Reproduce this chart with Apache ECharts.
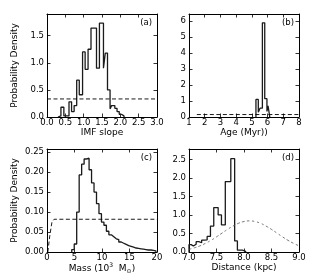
<!DOCTYPE html>
<html><head><meta charset="utf-8">
<script src="https://cdn.jsdelivr.net/npm/echarts@6/dist/echarts.min.js"></script>
<style>html,body{margin:0;padding:0;background:#fff}#c{width:315px;height:280px}</style>
</head><body><div id="c"></div>
<script>
// ---- Panel (a): IMF slope ----
const aEdges = [0.30, 0.38, 0.46, 0.60, 0.67, 0.74, 0.81, 0.88, 0.97, 1.04, 1.12, 1.20, 1.35, 1.43, 1.54, 1.59, 1.65, 1.72, 1.76, 1.85, 1.91, 1.97, 2.03, 2.10];
const aDensity = [0.02, 0.18, 0.02, 0.28, 0.10, 0.21, 0.68, 0.41, 1.20, 0.88, 1.25, 1.64, 0.90, 1.73, 0.90, 1.18, 0.50, 0.15, 0.21, 0.16, 0.10, 0.05, 0.02];
const aPriorX = [0, 3];
const aPriorY = [0.333, 0.333];
const aXTicks = [0, 0.5, 1.0, 1.5, 2.0, 2.5, 3.0];
const aYTicks = [0, 0.5, 1.0, 1.5];

// ---- Panel (b): Age ----
const bEdges = [5.26, 5.41, 5.52, 5.67, 5.82, 5.96, 6.03, 6.14];
const bDensity = [1.1, 0.3, 0.55, 5.9, 1.15, 0.35, 0.7];
const bPriorX = [1.5, 8];
const bPriorY = [0.154, 0.154];
const bXTicks = [1, 2, 3, 4, 5, 6, 7, 8];
const bYTicks = [0, 1, 2, 3, 4, 5, 6];

// ---- Panel (c): Mass ----
const cEdges = [4.5, 4.95, 5.4, 5.85, 6.3, 6.75, 7.2, 7.65, 8.1, 8.55, 9.0, 9.45, 9.9, 10.35, 10.8, 11.25, 11.7, 12.15, 12.6, 13.05, 13.5, 13.95, 14.4, 14.85, 15.3, 15.75, 16.2, 16.65, 17.1, 17.55, 18.0, 18.45, 18.9, 19.35, 19.8];
const cDensity = [0.006, 0.02, 0.100, 0.193, 0.220, 0.233, 0.235, 0.206, 0.173, 0.150, 0.121, 0.096, 0.075, 0.067, 0.052, 0.043, 0.038, 0.033, 0.031, 0.025, 0.022, 0.019, 0.016, 0.014, 0.012, 0.010, 0.009, 0.008, 0.007, 0.006, 0.005, 0.005, 0.004, 0.003];
const cPriorX = [0.15, 0.5, 0.9, 1.3, 20];
const cPriorY = [0, 0.04, 0.075, 0.082, 0.082];
const cXTicks = [0, 5, 10, 15, 20];
const cYTicks = [0, 0.05, 0.10, 0.15, 0.20, 0.25];

// ---- Panel (d): Distance ----
const dEdges = [7.00, 7.04, 7.08, 7.13, 7.18, 7.23, 7.28, 7.33, 7.39, 7.45, 7.53, 7.59, 7.66, 7.76, 7.83, 7.88, 7.97, 8.03];
const dDensity = [0.20, 0.16, 0.21, 0.28, 0.25, 0.32, 0.33, 0.42, 0.70, 1.20, 1.00, 0.73, 1.90, 2.52, 0.30, 0.05, 0.02];
const dPriorX = [7.0, 7.1, 7.2, 7.3, 7.4, 7.5, 7.6, 7.7, 7.8, 7.9, 8.0, 8.1, 8.2, 8.3, 8.4, 8.5, 8.6, 8.7, 8.8, 8.9, 9.0];
const dPriorY = [0.075, 0.114, 0.166, 0.234, 0.315, 0.409, 0.51, 0.61, 0.70, 0.775, 0.823, 0.84, 0.823, 0.775, 0.70, 0.61, 0.51, 0.409, 0.315, 0.234, 0.166];
const dXTicks = [7.0, 7.5, 8.0, 8.5, 9.0];
const dYTicks = [0, 0.5, 1.0, 1.5, 2.0, 2.5];

const FONT = 'DejaVu Sans';

function stepData(edges, vals) {
  const out = [[edges[0], 0]];
  for (let i = 0; i < vals.length; i++) out.push([edges[i], vals[i]]);
  out.push([edges[edges.length - 1], vals[vals.length - 1]]);
  out.push([edges[edges.length - 1], 0]);
  return out;
}
function pairs(xs, ys) { return xs.map((x, i) => [x, ys[i]]); }

const panels = [
  {grid:{left:47, top:14, width:110, height:103}, xMin:0, xMax:3, xTicks:aXTicks, xDec:1, yMax:1.9, yTicks:aYTicks, yDec:1,
   xName:'IMF slope', yName:'Probability Density', tag:'(a)', edges:aEdges, dens:aDensity, px:aPriorX, py:aPriorY, dashed:'black'},
  {grid:{left:189, top:14, width:110, height:103}, xMin:1, xMax:8, xTicks:bXTicks, xDec:0, yMax:6.45, yTicks:bYTicks, yDec:0,
   xName:'Age (Myr))', yName:'', tag:'(b)', edges:bEdges, dens:bDensity, px:bPriorX, py:bPriorY, dashed:'black'},
  {grid:{left:47, top:149, width:110, height:103}, xMin:0, xMax:20, xTicks:cXTicks, xDec:0, yMax:0.258, yTicks:cYTicks, yDec:2,
   xName:'Mass (10{sup|3}  M{sub|⊙})', yName:'Probability Density', tag:'(c)', edges:cEdges, dens:cDensity, px:cPriorX, py:cPriorY, dashed:'black'},
  {grid:{left:189, top:149, width:110, height:103}, xMin:7, xMax:9, xTicks:dXTicks, xDec:1, yMax:2.78, yTicks:dYTicks, yDec:1,
   xName:'Distance (kpc)', yName:'', tag:'(d)', edges:dEdges, dens:dDensity, px:dPriorX, py:dPriorY, dashed:'gray'}
];

const grid = [], xAxis = [], yAxis = [], series = [], graphic = [];
const tickStyle = {show:true, inside:true, length:3.5, lineStyle:{color:'#000', width:0.8}};
const lineStyle = {show:true, onZero:false, lineStyle:{color:'#000', width:1}};
panels.forEach((p, i) => {
  grid.push(Object.assign({show:false, containLabel:false}, p.grid));
  xAxis.push({
    type:'value', gridIndex:i, position:'bottom', min:p.xMin, max:p.xMax,
    axisLine:lineStyle, splitLine:{show:false},
    axisTick:Object.assign({customValues:p.xTicks}, tickStyle),
    axisLabel:{customValues:p.xTicks, formatter:v => v.toFixed(p.xDec), fontFamily:FONT, fontSize:8.5, color:'#000', margin:1},
    name:p.xName, nameLocation:'middle', nameGap: i === 2 ? 8 : 7,
    nameTextStyle:{fontFamily:FONT, fontSize:9, color:'#000',
      rich:{sup:{fontSize:6, verticalAlign:'top', padding:[0,0,6,0], fontFamily:FONT, color:'#000'},
            sub:{fontSize:6, verticalAlign:'bottom', padding:[5,0,0,0], fontFamily:FONT, color:'#000'}}}
  });
  xAxis.push({
    type:'value', gridIndex:i, position:'top', min:p.xMin, max:p.xMax,
    axisLine:lineStyle, splitLine:{show:false},
    axisTick:Object.assign({customValues:p.xTicks}, tickStyle),
    axisLabel:{show:false}
  });
  yAxis.push({
    type:'value', gridIndex:i, position:'left', min:0, max:p.yMax,
    axisLine:lineStyle, splitLine:{show:false},
    axisTick:Object.assign({customValues:p.yTicks}, tickStyle),
    axisLabel:{customValues:p.yTicks, formatter:v => v.toFixed(p.yDec), fontFamily:FONT, fontSize:8.5, color:'#000', margin:3},
    name:p.yName, nameLocation:'middle', nameGap:28,
    nameTextStyle:{fontFamily:FONT, fontSize:9, color:'#000'}
  });
  yAxis.push({
    type:'value', gridIndex:i, position:'right', min:0, max:p.yMax,
    axisLine:lineStyle, splitLine:{show:false},
    axisTick:Object.assign({customValues:p.yTicks}, tickStyle),
    axisLabel:{show:false}
  });
  series.push({
    type:'line', xAxisIndex:2*i, yAxisIndex:2*i, data:stepData(p.edges, p.dens), step:'end',
    symbol:'none', clip:true, silent:true, animation:false,
    lineStyle:{color:'#1a1a1a', width:1.3}
  });
  series.push({
    type:'line', xAxisIndex:2*i, yAxisIndex:2*i, data:pairs(p.px, p.py),
    symbol:'none', clip:true, silent:true, animation:false, smooth: p.dashed === 'gray',
    lineStyle: p.dashed === 'gray'
      ? {color:'#555', width:0.8, type:[2.5, 2.5]}
      : {color:'#000', width:0.9, type:[4, 2.5]}
  });
  graphic.push({
    type:'text', x:p.grid.left + p.grid.width - 5, y:p.grid.top + 9,
    style:{text:p.tag, textAlign:'right', textVerticalAlign:'middle', fontFamily:FONT, fontSize:8.5, fill:'#000'}
  });
});

const chart = echarts.init(document.getElementById('c'), null, {renderer:'canvas'});
chart.setOption({animation:false, backgroundColor:'#fff', grid, xAxis, yAxis, series, graphic});
</script>
</body></html>
